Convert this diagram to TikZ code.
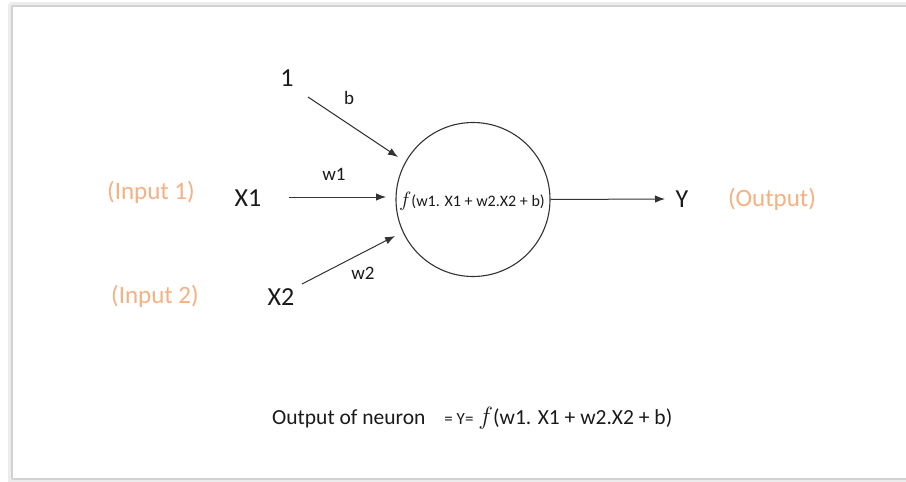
\documentclass[tikz,border=0pt]{standalone}
\usepackage{fontspec}
\setmainfont{Carlito}
\usetikzlibrary{arrows.meta}
\definecolor{ink}{HTML}{1A1A1A}
\definecolor{lineink}{HTML}{333333}
\definecolor{peach}{HTML}{F4B183}
\tikzset{
  lbl/.style={font=\fontsize{26}{28}\selectfont, text=ink, inner sep=0pt},
  wlbl/.style={font=\fontsize{19}{21}\selectfont, text=ink, inner sep=0pt},
  note/.style={font=\fontsize{25}{27}\selectfont, text=peach, inner sep=0pt},
  conn/.style={draw=lineink, line width=1pt, -{Latex[length=10pt,width=7.5pt]}},
}
\begin{document}
\begin{tikzpicture}[x=1pt,y=-1pt]
\useasboundingbox (0,0) rectangle (906,482);
% frame with soft shadow
\draw[gray!15, line width=4pt] (10,4) -- (10,482) (10,4) -- (906,4) (10,480) -- (906,480);
\draw[gray!35, line width=1.2pt] (12,6) -- (12,479) (12,6) -- (906,6) (12,479) -- (906,479);
\fill[white] (13,7) rectangle (906,478);

% neuron
\node[circle, draw=lineink, line width=1.1pt, minimum size=154pt, inner sep=0pt] (cell) at (473,199.5) {};
\node[font=\fontsize{16}{18}\selectfont, text=ink, inner sep=0pt] (fx) at (472,201)
  {{\fontsize{22}{22}\selectfont$f$}(w1. X1 + w2.X2 + b)};

% inputs
\node[lbl] (one) at (287,78) {1};
\node[lbl] (x1) at (248,198) {X1};
\node[lbl] (x2) at (281,297) {X2};
\node[note] (in1) at (151,192) {(Input 1)};
\node[note] (in2) at (155,296) {(Input 2)};
\node[lbl] (y) at (682,199) {Y};
\node[note] (out) at (772,199) {(Output)};

% connector end points
\coordinate (bs) at (308,97);
\coordinate (be) at (398,157);
\coordinate (w1s) at (289,197);
\coordinate (w1e) at (386,197);
\coordinate (w2s) at (302,284);
\coordinate (w2e) at (395,236);
\coordinate (ye) at (665,199);

\draw[conn] (bs) -- (be);
\draw[conn] (w1s) -- (w1e);
\draw[conn] (w2s) -- (w2e);
\draw[conn] (cell.east) -- (ye);

\node[wlbl] (lb) at (349,98) {b};
\node[wlbl] (lw1) at (334,174) {w1};
\node[wlbl] (lw2) at (363,273) {w2};

% formula
\node[font=\fontsize{21.5}{24}\selectfont, text=ink, inner sep=0pt, anchor=west] (formula) at (272,418)
  {Output of neuron\hspace{19pt}{\fontsize{17}{19}\selectfont= Y=}\hspace{5pt}{\fontsize{30}{30}\selectfont$f$}(w1. X1 + w2.X2 + b)};
\end{tikzpicture}
\end{document}
